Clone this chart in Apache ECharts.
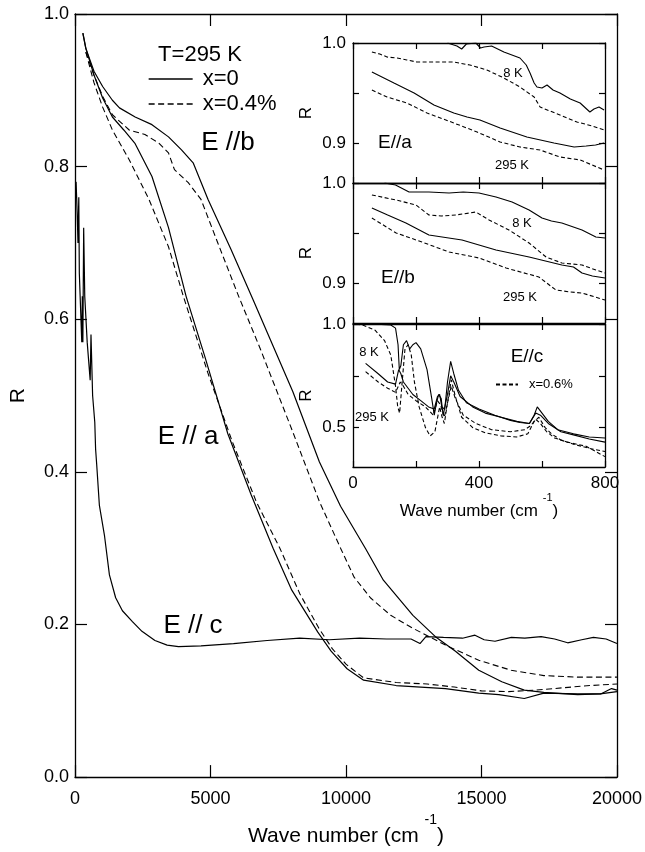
<!DOCTYPE html>
<html><head><meta charset="utf-8">
<script src="https://cdn.jsdelivr.net/npm/echarts@6/dist/echarts.min.js"></script>
<style>html,body{margin:0;padding:0;background:#fff}#c{width:645px;height:852px}</style>
</head><body><div id="c"></div>
<script>
// ---------- tick labels ----------
const mainXTicks = [0, 5000, 10000, 15000, 20000];
const mainYTicks = [0.0, 0.2, 0.4, 0.6, 0.8, 1.0];
const insetXTicks = [0, 200, 400, 600, 800];
const insetXLabels = [0, 400, 800];
const insetABYTicks = [0.9, 0.95, 1.0];
const insetABYLabels = [0.9, 1.0];
const insetCYTicks = [0.5, 0.75, 1.0];
const insetCYLabels = [0.5, 1.0];

// ---------- main panel (T = 295 K) ----------
const mainEa_x0 = [[290,0.975],[400,0.955],[700,0.92],[1020,0.89],[1380,0.865],[1800,0.848],[2220,0.83],[2840,0.787],[3450,0.72],[4100,0.63],[4800,0.55],[5640,0.45],[6500,0.37],[7310,0.30],[8000,0.245],[8960,0.19],[9450,0.165],[10040,0.142],[10650,0.127],[11850,0.120],[13670,0.116],[14900,0.110],[15640,0.108],[16580,0.103],[17300,0.110],[18550,0.109],[19400,0.109],[19800,0.116],[20000,0.114]];
const mainEa_x04 = [[400,0.95],[700,0.91],[1020,0.878],[1380,0.848],[2000,0.809],[2730,0.757],[3450,0.695],[4000,0.630],[4900,0.53],[5800,0.44],[6700,0.36],[7560,0.30],[8300,0.24],[9000,0.195],[9500,0.168],[10000,0.148],[10650,0.13],[11850,0.124],[13000,0.122],[14000,0.118],[15000,0.113],[16000,0.112],[17000,0.114],[18000,0.117],[19000,0.12],[20000,0.122]];
const mainEb_x0 = [[290,0.975],[400,0.955],[700,0.925],[1020,0.905],[1380,0.887],[1640,0.877],[2220,0.865],[2840,0.855],[3450,0.839],[3930,0.822],[4360,0.805],[4910,0.757],[5750,0.692],[6580,0.625],[7090,0.583],[8040,0.505],[9020,0.413],[9800,0.355],[10730,0.299],[11380,0.258],[12470,0.212],[13300,0.184],[14040,0.165],[14900,0.140],[15750,0.125],[16580,0.114],[17300,0.111],[18550,0.108],[19380,0.109],[20000,0.112]];
const mainEb_x04 = [[400,0.95],[700,0.92],[1020,0.892],[1380,0.868],[2000,0.848],[2580,0.842],[3090,0.831],[3450,0.818],[3670,0.796],[4180,0.779],[4650,0.757],[5270,0.700],[6040,0.630],[6840,0.561],[8040,0.452],[9020,0.361],[9800,0.30],[10300,0.262],[10900,0.235],[11650,0.212],[12470,0.195],[13670,0.173],[14900,0.153],[16100,0.140],[17300,0.133],[18550,0.131],[20000,0.131]];
const mainEc_x0 = [[40,0.78],[80,0.74],[110,0.70],[140,0.76],[160,0.66],[200,0.62],[250,0.57],[270,0.63],[290,0.57],[320,0.72],[360,0.63],[450,0.57],[560,0.52],[590,0.58],[650,0.50],[730,0.465],[760,0.43],[800,0.41],[900,0.356],[1090,0.316],[1270,0.265],[1500,0.235],[1750,0.218],[2110,0.204],[2470,0.191],[2950,0.179],[3400,0.173],[3820,0.171],[4650,0.172],[5850,0.175],[7090,0.179],[8290,0.182],[9380,0.180],[10500,0.182],[11500,0.181],[12400,0.181],[12730,0.175],[12950,0.184],[13600,0.183],[14300,0.182],[14760,0.186],[15100,0.180],[15500,0.178],[16100,0.183],[16600,0.182],[17200,0.184],[17700,0.181],[18180,0.176],[18700,0.180],[19130,0.183],[19600,0.181],[20000,0.175]];

// ---------- inset E//a ----------
const inA_8K_x0 = [[300,1.0],[330,0.997],[345,0.994],[360,0.999],[390,1.0],[405,0.995],[416,0.996],[440,0.997],[479,0.991],[530,0.985],[550,0.978],[562,0.97],[575,0.96],[584,0.956],[600,0.955],[616,0.958],[635,0.953],[657,0.950],[690,0.944],[721,0.940],[752,0.931],[765,0.934],[781,0.936],[797,0.933]];
const inA_8K_dop = [[60,0.991],[85,0.989],[108,0.986],[140,0.985],[171,0.983],[203,0.981],[260,0.981],[320,0.981],[371,0.978],[425,0.973],[479,0.965],[530,0.956],[575,0.946],[594,0.936],[625,0.932],[657,0.928],[711,0.921],[760,0.917],[797,0.913]];
const inA_295_x0 = [[60,0.971],[130,0.960],[194,0.950],[257,0.938],[320,0.930],[362,0.926],[403,0.923],[467,0.915],[552,0.906],[638,0.900],[702,0.896],[740,0.897],[770,0.898],[797,0.900]];
const inA_295_dop = [[60,0.953],[108,0.946],[171,0.940],[235,0.930],[320,0.920],[394,0.911],[467,0.901],[530,0.896],[594,0.893],[657,0.886],[721,0.883],[797,0.873]];

// ---------- inset E//b ----------
const inB_8K_x0 = [[100,1.0],[135,0.998],[178,0.991],[241,0.991],[305,0.990],[350,0.991],[400,0.990],[454,0.986],[505,0.981],[559,0.973],[600,0.965],[630,0.962],[663,0.960],[727,0.953],[771,0.946],[800,0.945]];
const inB_8K_dop = [[60,0.988],[137,0.983],[200,0.978],[241,0.968],[280,0.967],[327,0.968],[390,0.971],[432,0.963],[495,0.953],[559,0.940],[613,0.926],[663,0.920],[727,0.918],[771,0.913],[800,0.910]];
const inB_295_x0 = [[60,0.975],[110,0.968],[168,0.960],[241,0.948],[346,0.943],[454,0.933],[559,0.926],[663,0.918],[700,0.916],[727,0.910],[760,0.907],[800,0.905]];
const inB_295_dop = [[60,0.965],[137,0.950],[219,0.941],[305,0.931],[400,0.925],[486,0.915],[590,0.906],[644,0.893],[690,0.891],[727,0.890],[800,0.883]];

// ---------- inset E//c ----------
const inC_8K_x0 = [[10,1.0],[60,1.0],[120,0.995],[135,0.98],[143,0.9],[147,0.78],[152,0.8],[160,0.9],[170,0.92],[180,0.88],[190,0.9],[200,0.91],[215,0.88],[235,0.78],[250,0.64],[258,0.56],[265,0.62],[272,0.66],[280,0.64],[286,0.56],[292,0.6],[300,0.72],[310,0.82],[320,0.76],[335,0.68],[360,0.62],[400,0.59],[450,0.56],[500,0.535],[530,0.525],[560,0.52],[575,0.56],[585,0.6],[600,0.57],[620,0.53],[650,0.49],[700,0.47],[750,0.455],[800,0.45]];
const inC_8K_dop = [[10,1.0],[30,0.995],[70,0.97],[100,0.92],[120,0.85],[135,0.7],[142,0.6],[148,0.57],[155,0.7],[165,0.88],[175,0.9],[185,0.85],[195,0.72],[210,0.6],[230,0.5],[245,0.46],[260,0.48],[275,0.6],[283,0.55],[290,0.52],[300,0.62],[312,0.73],[325,0.65],[345,0.55],[380,0.5],[420,0.475],[470,0.46],[520,0.455],[555,0.47],[575,0.53],[590,0.55],[610,0.5],[630,0.47],[660,0.44],[700,0.42],[750,0.4],[800,0.385]];
const inC_295_x0 = [[40,0.81],[80,0.76],[110,0.72],[135,0.71],[145,0.78],[152,0.76],[160,0.72],[175,0.69],[190,0.66],[215,0.63],[240,0.6],[258,0.59],[268,0.65],[275,0.66],[282,0.6],[290,0.59],[300,0.66],[310,0.75],[320,0.72],[340,0.65],[380,0.6],[420,0.57],[470,0.55],[520,0.53],[560,0.52],[580,0.57],[595,0.56],[620,0.52],[660,0.48],[700,0.465],[750,0.445],[800,0.43]];
const inC_295_dop = [[40,0.77],[80,0.72],[110,0.69],[135,0.67],[150,0.72],[160,0.70],[175,0.66],[200,0.63],[230,0.6],[255,0.56],[268,0.63],[278,0.61],[290,0.55],[300,0.62],[312,0.7],[325,0.64],[350,0.56],[390,0.52],[440,0.49],[500,0.48],[545,0.49],[565,0.51],[580,0.54],[595,0.52],[615,0.48],[640,0.45],[680,0.43],[740,0.41],[800,0.36]];

// ---------- build ----------
const FONT = "'Liberation Sans', Arial, Helvetica, sans-serif";
const BLACK = '#000';
const axLine = {show: true, onZero: false, lineStyle: {color: BLACK, width: 1.3}};

function tickSet(len, custom) {
  const t = {show: true, inside: true, length: len, lineStyle: {color: BLACK, width: 1.2}};
  if (custom) t.customValues = custom;
  return t;
}
function sup(name, size) {
  return {
    name: '{a|' + name + ' (cm }{s|-1}{a|)}',
    nameTextStyle: {rich: {
      a: {fontSize: size, fontFamily: FONT, color: BLACK, lineHeight: Math.round(size * 1.6), verticalAlign: 'bottom'},
      s: {fontSize: Math.round(size * 0.65), fontFamily: FONT, color: BLACK, lineHeight: Math.round(size * 0.65), verticalAlign: 'top'}
    }}
  };
}
const plain = v => String(v);

const xAxes = [], yAxes = [];
// main
xAxes.push(Object.assign({gridIndex: 0, type: 'value', min: 0, max: 20000, interval: 5000, position: 'bottom',
  axisLine: axLine, axisTick: tickSet(12), splitLine: {show: false},
  axisLabel: {fontSize: 18, color: BLACK, fontFamily: FONT, margin: 13, formatter: plain},
  nameLocation: 'middle', nameGap: 30}, sup('Wave number', 21)));
xAxes.push({gridIndex: 0, type: 'value', min: 0, max: 20000, interval: 5000, position: 'top',
  axisLine: axLine, axisTick: tickSet(12), splitLine: {show: false}, axisLabel: {show: false}});
yAxes.push({gridIndex: 0, type: 'value', min: 0, max: 1, interval: 0.2, position: 'left',
  axisLine: axLine, axisTick: tickSet(12), splitLine: {show: false},
  axisLabel: {fontSize: 18, color: BLACK, fontFamily: FONT, margin: 6, formatter: v => v.toFixed(1)},
  name: 'R', nameLocation: 'middle', nameGap: 46, nameTextStyle: {fontSize: 21, fontFamily: FONT, color: BLACK}});
yAxes.push({gridIndex: 0, type: 'value', min: 0, max: 1, interval: 0.2, position: 'right',
  axisLine: axLine, axisTick: tickSet(12), splitLine: {show: false}, axisLabel: {show: false}});

// insets
const insetY = [
  {min: 0.86, ticks: insetABYTicks, labels: insetABYLabels},
  {min: 0.86, ticks: insetABYTicks, labels: insetABYLabels},
  {min: 0.31, ticks: insetCYTicks, labels: insetCYLabels}
];
insetY.forEach((c, i) => {
  const g = i + 1;
  const last = (i === 2);
  const xb = {gridIndex: g, type: 'value', min: 0, max: 800, position: 'bottom',
    axisLine: axLine, axisTick: tickSet(6, insetXTicks), splitLine: {show: false},
    axisLabel: last ? {show: true, customValues: insetXLabels, fontSize: 17, color: BLACK, fontFamily: FONT, margin: 8, formatter: plain}
                    : {show: false}};
  if (last) Object.assign(xb, {nameLocation: 'middle', nameGap: 25}, sup('Wave number', 17));
  xAxes.push(xb);
  xAxes.push({gridIndex: g, type: 'value', min: 0, max: 800, position: 'top',
    axisLine: axLine, axisTick: tickSet(6, insetXTicks), splitLine: {show: false}, axisLabel: {show: false}});
  yAxes.push({gridIndex: g, type: 'value', min: c.min, max: 1.0, position: 'left',
    axisLine: axLine, axisTick: tickSet(6, c.ticks), splitLine: {show: false},
    axisLabel: {show: true, customValues: c.labels, fontSize: 17, color: BLACK, fontFamily: FONT, margin: 7, formatter: v => v.toFixed(1)},
    name: 'R', nameLocation: 'middle', nameGap: 38, nameTextStyle: {fontSize: 17, fontFamily: FONT, color: BLACK}});
  yAxes.push({gridIndex: g, type: 'value', min: c.min, max: 1.0, position: 'right',
    axisLine: axLine, axisTick: tickSet(6, c.ticks), splitLine: {show: false}, axisLabel: {show: false}});
});

function ln(name, data, dash, axis, width) {
  return {type: 'line', name: name, data: data, xAxisIndex: axis, yAxisIndex: axis,
    symbol: 'none', showSymbol: false, clip: true, silent: true, animation: false,
    emphasis: {disabled: true},
    lineStyle: {color: BLACK, width: width || 1.1, type: dash ? dash : 'solid'},
    itemStyle: {color: BLACK}};
}
const MD = [6, 3.5];
const ID = [4, 2.5];
const series = [
  ln('x=0', mainEa_x0, null, 0, 1.2),
  ln('x=0.4%', mainEa_x04, MD, 0, 1.1),
  ln('x=0', mainEb_x0, null, 0, 1.2),
  ln('x=0.4%', mainEb_x04, MD, 0, 1.1),
  ln('x=0', mainEc_x0, null, 0, 1.2),
  ln('a 8K x=0', inA_8K_x0, null, 2),
  ln('a 8K doped', inA_8K_dop, ID, 2),
  ln('a 295K x=0', inA_295_x0, null, 2),
  ln('a 295K doped', inA_295_dop, ID, 2),
  ln('b 8K x=0', inB_8K_x0, null, 4),
  ln('b 8K doped', inB_8K_dop, ID, 4),
  ln('b 295K x=0', inB_295_x0, null, 4),
  ln('b 295K doped', inB_295_dop, ID, 4),
  ln('c 8K x=0', inC_8K_x0, null, 6),
  ln('x=0.6%', inC_8K_dop, ID, 6),
  ln('c 295K x=0', inC_295_x0, null, 6),
  ln('x=0.6%', inC_295_dop, ID, 6)
];

function txt(text, x, y, size) {
  return {type: 'text', x: x, y: y, silent: true, z: 50,
    style: {text: text, fill: BLACK, font: size + 'px ' + FONT, textAlign: 'center', textVerticalAlign: 'middle'}};
}

const legendItemHidden = {opacity: 0, borderWidth: 0};
const option = {
  backgroundColor: '#fff',
  animation: false,
  grid: [
    {left: 72, top: 14, width: 550, height: 765, containLabel: false},
    {left: 353, top: 43, width: 252, height: 140, show: true, backgroundColor: '#fff', borderWidth: 0},
    {left: 353, top: 183, width: 252, height: 140, show: true, backgroundColor: '#fff', borderWidth: 0},
    {left: 353, top: 324, width: 252, height: 143, show: true, backgroundColor: '#fff', borderWidth: 0}
  ],
  xAxis: xAxes,
  yAxis: yAxes,
  legend: [
    {data: ['x=0', 'x=0.4%'], orient: 'vertical', left: 143, top: 63, itemWidth: 44, itemHeight: 14,
      itemGap: 3, selectedMode: false, itemStyle: legendItemHidden,
      lineStyle: {width: 1.3},
      textStyle: {fontSize: 22, color: BLACK, fontFamily: FONT, padding: [0, 0, 0, 5]}},
    {data: ['x=0.6%'], orient: 'horizontal', left: 490, top: 373, itemWidth: 22, itemHeight: 10,
      selectedMode: false, itemStyle: legendItemHidden,
      textStyle: {fontSize: 13, color: BLACK, fontFamily: FONT, padding: [0, 0, 0, 6]}}
  ],
  graphic: [
    txt('T=295 K', 200, 55, 22),
    txt('E //b', 228, 143, 26),
    txt('E // a', 188, 437, 26),
    txt('E // c', 193, 626, 26),
    txt('8 K', 513, 73, 13),
    txt('E//a', 395, 143, 19),
    txt('295 K', 512, 165, 13),
    txt('8 K', 522, 223, 13),
    txt('E//b', 398, 278, 19),
    txt('295 K', 520, 297, 13),
    txt('8 K', 369, 352, 13),
    txt('295 K', 372, 417, 13),
    txt('E//c', 527, 357, 19)
  ],
  series: series
};

const chart = echarts.init(document.getElementById('c'), null, {renderer: 'canvas'});
chart.setOption(option);
</script></body></html>
